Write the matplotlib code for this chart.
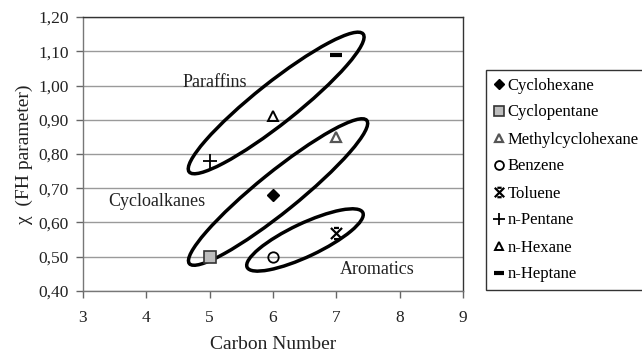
import matplotlib
matplotlib.use("Agg")
import matplotlib.pyplot as plt
from matplotlib.patches import Ellipse
from matplotlib.path import Path
from matplotlib.transforms import ScaledTranslation
from matplotlib.ticker import FuncFormatter, MultipleLocator

plt.rcParams['font.family'] = ['Liberation Serif', 'DejaVu Serif']

# Data
compounds = ['Cyclohexane', 'Cyclopentane', 'Methylcyclohexane', 'Benzene',
             'Toluene', 'n-Pentane', 'n-Hexane', 'n-Heptane']
carbon = [6, 5, 7, 6, 7, 5, 6, 7]
chi = [0.68, 0.50, 0.85, 0.50, 0.57, 0.78, 0.91, 1.09]

# Group ellipses: label, centre (data), width/height in px, angle
groups = ['Paraffins', 'Cycloalkanes', 'Aromatics']
ell_centers = [(6.05, 0.949), (6.08, 0.689), (6.505, 0.549)]
ell_sizes = [(222, 41), (228, 40), (128, 33)]
ell_angles = [38.4, 38.9, 25.3]
label_pos = [(5.08, 1.008), (4.17, 0.66), (7.64, 0.464)]

# Toluene marker: x with short bars top and bottom
star_verts = [(-1, 1), (1, -1), (-1, -1), (1, 1), (-0.45, 1), (0.45, 1), (-0.45, -1), (0.45, -1)]
star_codes = [Path.MOVETO, Path.LINETO, Path.MOVETO, Path.LINETO,
              Path.MOVETO, Path.LINETO, Path.MOVETO, Path.LINETO]
star = Path(star_verts, star_codes)

styles = [
    dict(marker='D', ms=6, mfc='black', mec='black', mew=1),
    dict(marker='s', ms=8.5, mfc='#bdbdbd', mec='#333333', mew=1.2),
    dict(marker='^', ms=7.5, mfc='none', mec='#555555', mew=1.6),
    dict(marker='o', ms=7.5, mfc='none', mec='black', mew=1.3),
    dict(marker=star, ms=8, mfc='none', mec='black', mew=1.6),
    dict(marker='+', ms=10, mfc='none', mec='black', mew=1.3),
    dict(marker='^', ms=7.5, mfc='none', mec='black', mew=1.4),
    dict(marker='_', ms=9, mfc='none', mec='black', mew=3),
]

dpi = 100
fig = plt.figure(figsize=(6.42, 3.56), dpi=dpi)
ax = fig.add_axes([83/642, 65/356, 380/642, 274/356])

for c, x, y, st in zip(compounds, carbon, chi, styles):
    ax.plot([x], [y], linestyle='none', label=c, zorder=4, **st)

for (cx, cy), (w, h), ang in zip(ell_centers, ell_sizes, ell_angles):
    tr = fig.dpi_scale_trans + ScaledTranslation(cx, cy, ax.transData)
    e = Ellipse((0, 0), w/dpi, h/dpi, angle=ang, transform=tr,
                fill=False, edgecolor='black', linewidth=2.5, zorder=3)
    ax.add_patch(e)

for g, (lx, ly) in zip(groups, label_pos):
    ax.text(lx, ly, g, ha='center', va='center', fontsize=13, color='#222222', zorder=5)

ax.set_xlim(3, 9)
ax.set_ylim(0.4, 1.2)
ax.xaxis.set_major_locator(MultipleLocator(1))
ax.yaxis.set_major_locator(MultipleLocator(0.1))
ax.yaxis.set_major_formatter(FuncFormatter(lambda v, p: f"{v:.2f}".replace('.', ',')))
ax.grid(axis='y', color='#9a9a9a', linewidth=1)
ax.set_axisbelow(True)
for s in ax.spines.values():
    s.set_color('#333333')
    s.set_linewidth(1)
ax.spines['left'].set_color('#777777')
ax.spines['bottom'].set_color('#777777')
ax.tick_params(direction='out', length=5, width=1, labelsize=12.5, color='#666666',
               labelcolor='#222222', pad=5)
ax.tick_params(axis='x', pad=9)
ax.set_xlabel('Carbon Number', fontsize=14, color='#222222', labelpad=7)
ax.set_ylabel('χ  (FH parameter)', fontsize=14, color='#222222', labelpad=4)

leg = fig.legend(loc='upper left', bbox_to_anchor=(486/642, (356-70)/356),
                 fontsize=12, frameon=True, fancybox=False, edgecolor='black',
                 handlelength=0.6, handletextpad=0.25, labelspacing=0.66,
                 borderpad=0.45, borderaxespad=0, numpoints=1, markerscale=0.85)
leg.get_frame().set_linewidth(1)

fig.savefig('out.png', dpi=dpi)
